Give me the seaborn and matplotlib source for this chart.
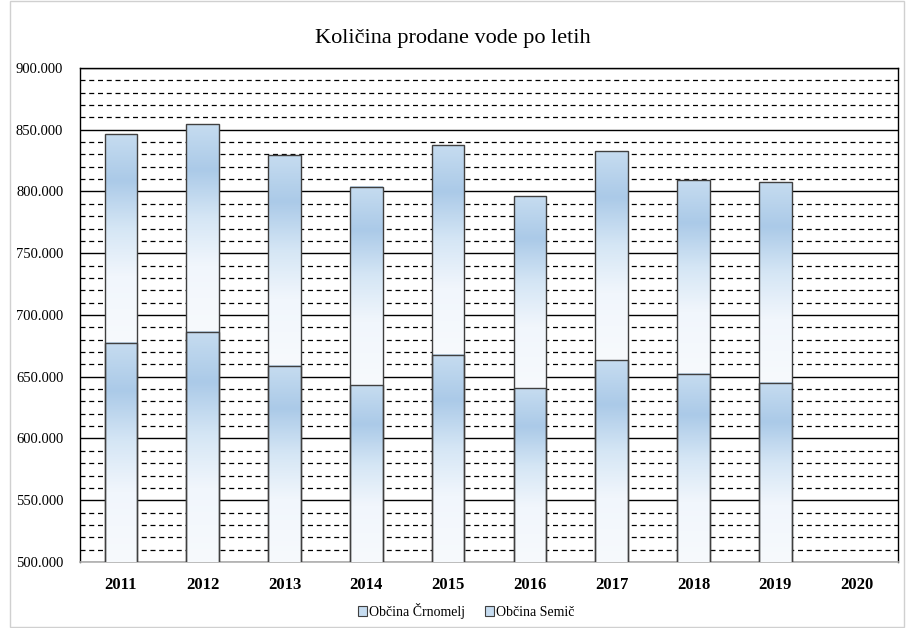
import numpy as np
import pandas as pd
import matplotlib
matplotlib.use("Agg")
import matplotlib.pyplot as plt
from matplotlib.colors import LinearSegmentedColormap
from matplotlib.patches import Patch, Rectangle
from matplotlib.ticker import FuncFormatter, MultipleLocator
import seaborn as sns

years = ["2011", "2012", "2013", "2014", "2015", "2016", "2017", "2018", "2019", "2020"]
data_years = ["2011", "2012", "2013", "2014", "2015", "2016", "2017", "2018", "2019"]
crnomelj = [677700, 686300, 658900, 643000, 667800, 640600, 663500, 652400, 645200]
semic = [168800, 168000, 170700, 160500, 169800, 155400, 169000, 157000, 162100]
title = "Količina prodane vode po letih"
series_names = ["Občina Črnomelj", "Občina Semič"]

sns.set_theme(style="white")
plt.rcParams["font.family"] = ["Liberation Serif", "DejaVu Serif"]
plt.rcParams["text.color"] = "black"
plt.rcParams["xtick.color"] = "black"
plt.rcParams["ytick.color"] = "black"

df = pd.DataFrame({
    "year": data_years,
    "crnomelj": crnomelj,
    "total": [c + s for c, s in zip(crnomelj, semic)],
})

fig = plt.figure(figsize=(9.06, 6.28), dpi=100)
ax = fig.add_axes([80 / 906, 66 / 628, 818 / 906, 494 / 628])

YMIN, YMAX = 500000, 900000
sns.barplot(data=df, x="year", y="total", order=years, ax=ax, width=0.40,
            color="#cfe2f3", edgecolor="#404040", linewidth=1.0, zorder=4)
sns.barplot(data=df, x="year", y="crnomelj", order=years, ax=ax, width=0.40,
            color="#cfe2f3", edgecolor="#404040", linewidth=1.0, zorder=5)

cmap = LinearSegmentedColormap.from_list(
    "grad", [(0.0, "#c6dcf0"), (0.22, "#abcae8"), (0.45, "#d5e6f5"),
             (0.68, "#f1f6fc"), (1.0, "#f7fafd")])
grad = np.linspace(0, 1, 256).reshape(-1, 1)

tot_bars = ax.containers[0]
bot_bars = ax.containers[1]


def fill(patch, y0, y1, z):
    x0 = patch.get_x()
    w = patch.get_width()
    lo = max(y0, YMIN)
    hi = min(y1, YMAX)
    if hi <= lo:
        return
    ax.imshow(grad, cmap=cmap, aspect="auto", origin="upper",
              extent=(x0, x0 + w, lo, hi), zorder=z, interpolation="bilinear")
    patch.set_facecolor("none")


for pt, pb in zip(tot_bars.patches, bot_bars.patches):
    if np.isnan(pt.get_height()) or pt.get_height() == 0:
        continue
    fill(pt, pb.get_height(), pt.get_height(), 3)
    fill(pb, 0, pb.get_height(), 3.5)

ax.set_xlim(-0.5, len(years) - 0.5)
ax.set_ylim(YMIN, YMAX)
ax.yaxis.set_major_locator(MultipleLocator(50000))
ax.yaxis.set_minor_locator(MultipleLocator(10000))
ax.yaxis.set_major_formatter(FuncFormatter(lambda v, p: f"{int(v):,}".replace(",", ".")))
ax.grid(True, which="major", axis="y", color="black", linewidth=1.0, linestyle="-", zorder=1)
ax.grid(True, which="minor", axis="y", color="black", linewidth=0.9,
        linestyle=(0, (4, 3)), zorder=1)
ax.set_axisbelow(True)
ax.tick_params(axis="y", which="both", length=0, pad=12, labelsize=10.5, labelcolor="black")
ax.tick_params(axis="x", length=0, pad=11, labelsize=12, labelcolor="black")
for lab in ax.get_xticklabels():
    lab.set_fontweight("bold")
ax.set_xlabel("")
ax.set_ylabel("")
for side in ["left", "top", "right"]:
    ax.spines[side].set_color("black")
    ax.spines[side].set_linewidth(1.0)
    ax.spines[side].set_visible(True)
ax.spines["bottom"].set_color("#b0b0b0")
ax.spines["bottom"].set_linewidth(1.2)

fig.text(0.5, 1 - 38 / 628, title, ha="center", va="center", fontsize=16, color="black")

handles = [Patch(facecolor="#c6dcf0", edgecolor="#404040", linewidth=0.8, label=n)
           for n in series_names]
leg = fig.legend(handles=handles, loc="center", bbox_to_anchor=(466 / 906, 1 - 611 / 628),
                 ncol=2, frameon=False, fontsize=10, handlelength=0.65, handleheight=0.65,
                 handletextpad=0.15, columnspacing=1.4)
for t in leg.get_texts():
    t.set_color("black")

fig.add_artist(Rectangle((10 / 906, 1 / 628), 894 / 906, 626 / 628,
                         transform=fig.transFigure, fill=False,
                         edgecolor="#d0d0d0", linewidth=1.0))

fig.savefig("out.png", dpi=100)
